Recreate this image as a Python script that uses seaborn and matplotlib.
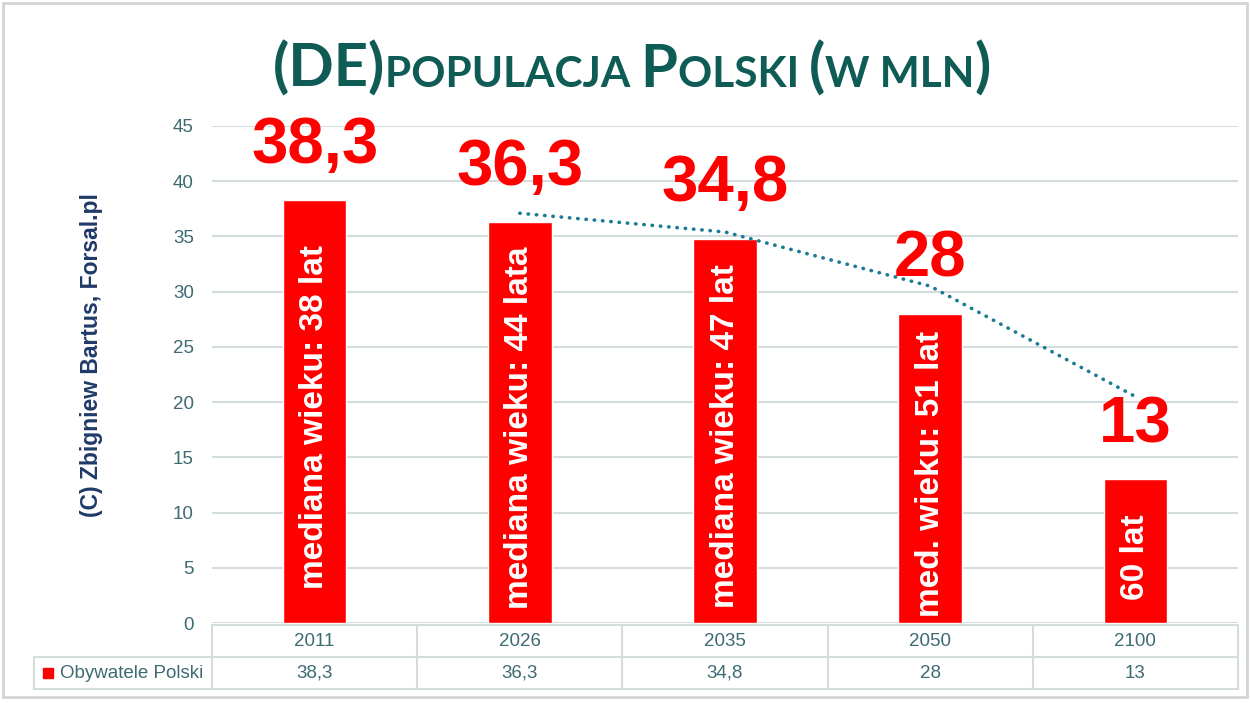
import matplotlib
matplotlib.use("Agg")
import matplotlib.pyplot as plt
import matplotlib.transforms as mtransforms
from matplotlib.patches import Rectangle
import seaborn as sns
import pandas as pd

# data
years = ["2011", "2026", "2035", "2050", "2100"]
population = [38.3, 36.3, 34.8, 28, 13]
median_labels = ["mediana wieku: 38 lat", "mediana wieku: 44 lata",
                 "mediana wieku: 47 lat", "med. wieku: 51 lat", "60 lat"]
trend_years = ["2026", "2035", "2050", "2100"]
trend_values = [37.1, 35.4, 30.5, 20.5]
series_name = "Obywatele Polski"
y_ticks = [0, 5, 10, 15, 20, 25, 30, 35, 40, 45]
title_parts = [("(DE)", True), ("POPULACJA ", False), ("P", True), ("OLSKI ", False),
               ("(", True), ("W MLN", False), (")", True)]
credit = "(C) Zbigniew Bartus, Forsal.pl"

RED = "#FF0000"
TITLE_C = "#0F5B55"
TICK_C = "#3D6B73"
GRID_C = "#D3DDDD"
TREND_C = "#1B7A95"
CREDIT_C = "#1F3A68"

sns.set_theme(style="whitegrid")
plt.rcParams['font.family'] = ['Liberation Sans', 'DejaVu Sans']
narrow = ['Liberation Sans Narrow', 'Liberation Sans', 'DejaVu Sans']

W, H = 1250, 703
fig = plt.figure(figsize=(W / 100, H / 100), dpi=100)
fig.patch.set_facecolor("white")
ax = fig.add_axes([212 / W, 1 - 623 / H, (1238 - 212) / W, (623 - 126) / H])

df = pd.DataFrame({"rok": years, "mln": population})
sns.barplot(data=df, x="rok", y="mln", color=RED, saturation=1, width=0.31, ax=ax)

# dotted trend line
trend_x = [years.index(y) for y in trend_years]
sns.lineplot(x=trend_x, y=trend_values, ax=ax, color=TREND_C, lw=2.6,
             linestyle=(0, (0.1, 2.2)), dash_capstyle="round")

def fmt(v):
    return f"{v:g}".replace(".", ",")

for i, (v, lab) in enumerate(zip(population, median_labels)):
    ax.annotate(fmt(v), (i, v), xytext=(0, 39), textcoords="offset points",
                ha="center", va="center", fontsize=47, fontweight="bold",
                color=RED, annotation_clip=False)
    ax.annotate(lab, (i, v / 2), xytext=(0, -4), textcoords="offset points",
                rotation=90, ha="center", va="center",
                color="white", fontsize=24, fontweight="bold")

ax.set_xlim(-0.5, 4.5)
ax.set_ylim(0, 45)
ax.set_yticks(y_ticks)
ax.set_xticks([])
ax.set_xlabel("")
ax.set_ylabel("")
ax.tick_params(axis="y", length=0, pad=13, labelsize=13.5, labelcolor=TICK_C)
for lbl in ax.get_yticklabels():
    lbl.set_family(narrow)
ax.grid(axis="y", color=GRID_C, lw=1.5)
ax.grid(axis="x", visible=False)
ax.set_axisbelow(True)
for s in ax.spines.values():
    s.set_visible(False)

# data table under the chart
trans = mtransforms.blended_transform_factory(ax.transData, fig.transFigure)
y_top, y_mid, y_bot = 1 - 625 / H, 1 - 657 / H, 1 - 689 / H
leg_left = 34 / W
ax_left = ax.get_position().x0
line_kw = dict(color=GRID_C, lw=1.5, clip_on=False)
ax.plot([-0.5, 4.5], [y_top, y_top], transform=trans, **line_kw)
ax.plot([-0.5, 4.5], [y_mid, y_mid], transform=trans, **line_kw)
ax.plot([-0.5, 4.5], [y_bot, y_bot], transform=trans, **line_kw)
for b in range(len(years) + 1):
    ax.plot([b - 0.5, b - 0.5], [y_top, y_bot], transform=trans, **line_kw)
fig.add_artist(plt.Line2D([leg_left, ax_left], [y_mid, y_mid], **line_kw))
fig.add_artist(plt.Line2D([leg_left, ax_left], [y_bot, y_bot], **line_kw))
fig.add_artist(plt.Line2D([leg_left, leg_left], [y_mid, y_bot], **line_kw))
for i, (yr, v) in enumerate(zip(years, population)):
    ax.text(i, (y_top + y_mid) / 2, yr, transform=trans, ha="center", va="center",
            fontsize=13.5, color=TICK_C, family=narrow)
    ax.text(i, (y_mid + y_bot) / 2, fmt(v), transform=trans, ha="center", va="center",
            fontsize=13.5, color=TICK_C, family=narrow)
fig.add_artist(Rectangle((43 / W, 1 - 678 / H), 10 / W, 10 / H, color=RED,
                         transform=fig.transFigure))
fig.text(60 / W, (y_mid + y_bot) / 2, series_name, ha="left", va="center",
         fontsize=13.5, color=TICK_C, family=narrow)

# credit
fig.text(92 / W, 1 - 355 / H, credit, rotation=90, ha="center", va="center",
         fontsize=16.5, fontweight="bold", color=CREDIT_C)

# small-caps title
renderer = fig.canvas.get_renderer()
base = 1 - 87 / H
x = 0.0
pieces = []
for txt, big in title_parts:
    t = fig.text(x, base, txt, fontsize=43 if big else 30.5, fontweight="bold",
                 color=TITLE_C, family=["Lato", "DejaVu Sans"], va="baseline", ha="left")
    x += t.get_window_extent(renderer).width / fig.bbox.width
    pieces.append(t)
shift = 632 / W - x / 2
for t in pieces:
    t.set_x(t.get_position()[0] + shift)

# outer frame
fig.add_artist(Rectangle((3 / W, 6 / H), 1244 / W, 694 / H, fill=False,
                         ec="#D4D4D4", lw=2, transform=fig.transFigure))

fig.savefig("out.png", dpi=100)
